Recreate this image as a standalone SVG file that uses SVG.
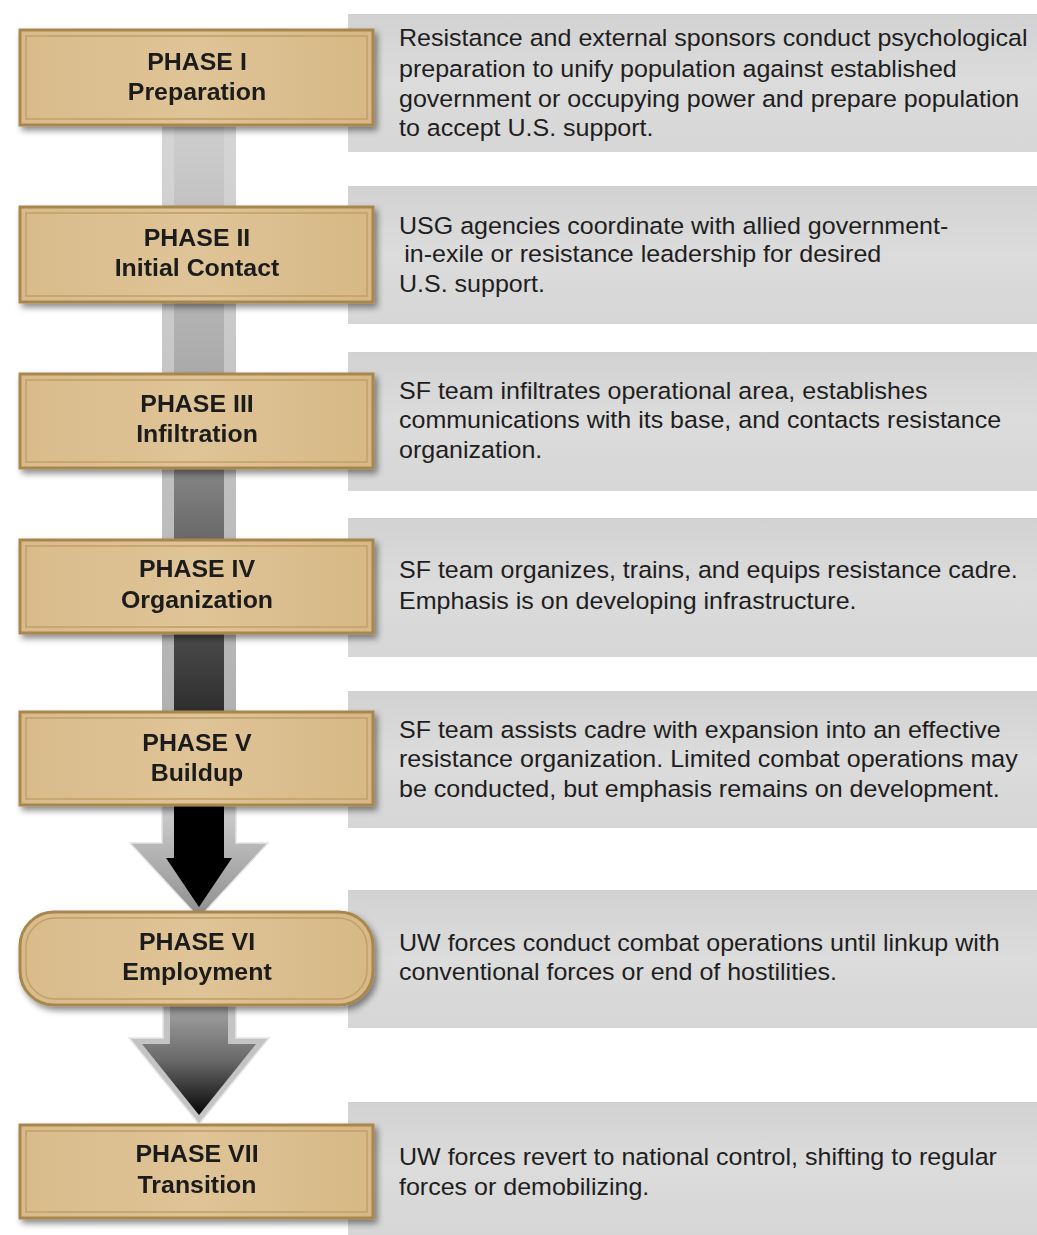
<svg xmlns="http://www.w3.org/2000/svg" width="1037" height="1235" viewBox="0 0 1037 1235">
<defs>
<style>
.panel{fill:url(#panelGrad);}
.box{fill:url(#boxGrad);stroke:#a8874f;stroke-width:3;}
.inner{fill:none;stroke:#c29f68;stroke-width:1.5;}
.lbl{font-family:"Liberation Sans",Arial,sans-serif;font-weight:bold;font-size:23.5px;fill:#1a1a1a;text-anchor:middle;}
.body{font-family:"Liberation Sans",Arial,sans-serif;font-size:23.5px;fill:#1e1e1e;}
</style>
<linearGradient id="panelGrad" x1="0" y1="0" x2="0" y2="1">
<stop offset="0" stop-color="#d2d2d2"/><stop offset="0.5" stop-color="#dcdcdc"/><stop offset="1" stop-color="#d6d6d6"/>
</linearGradient>
<linearGradient id="boxGrad" x1="0" y1="0" x2="1" y2="0">
<stop offset="0" stop-color="#d9bb8b"/><stop offset="0.5" stop-color="#dfc497"/><stop offset="1" stop-color="#d7b886"/>
</linearGradient>
<linearGradient id="shaftOuter" gradientUnits="userSpaceOnUse" x1="0" y1="120" x2="0" y2="860">
<stop offset="0" stop-color="#d6d6d6"/><stop offset="1" stop-color="#a8a8a8"/>
</linearGradient>
<linearGradient id="shaftInner" gradientUnits="userSpaceOnUse" x1="0" y1="120" x2="0" y2="860">
<stop offset="0" stop-color="#cfcfcf"/><stop offset="0.35" stop-color="#a9a9a9"/><stop offset="0.55" stop-color="#6e6e6e"/><stop offset="0.75" stop-color="#3c3c3c"/><stop offset="0.92" stop-color="#0a0a0a"/><stop offset="1" stop-color="#000"/>
</linearGradient>
<linearGradient id="headGray" x1="0" y1="0" x2="0" y2="1">
<stop offset="0" stop-color="#cfcfcf"/><stop offset="1" stop-color="#8e8e8e"/>
</linearGradient>
<linearGradient id="head2Inner" gradientUnits="userSpaceOnUse" x1="0" y1="1005" x2="0" y2="1115">
<stop offset="0" stop-color="#a4a4a4"/><stop offset="0.5" stop-color="#6a6a6a"/><stop offset="1" stop-color="#050505"/>
</linearGradient>
<filter id="shadow" x="-10%" y="-20%" width="125%" height="150%">
<feDropShadow dx="3" dy="4" stdDeviation="3" flood-color="#000" flood-opacity="0.45"/>
</filter>
</defs>
<rect width="1037" height="1235" fill="#ffffff"/>

<g id="panels">
<rect class="panel" x="348" y="14" width="689" height="138"/>
<rect class="panel" x="348" y="186" width="689" height="138"/>
<rect class="panel" x="348" y="352" width="689" height="139"/>
<rect class="panel" x="348" y="518" width="689" height="139"/>
<rect class="panel" x="348" y="691" width="689" height="137"/>
<rect class="panel" x="348" y="890" width="689" height="138"/>
<rect class="panel" x="348" y="1102" width="689" height="133"/>
</g>

<g id="connectors">
<rect x="162" y="120" width="74" height="690" fill="url(#shaftOuter)"/>
<rect x="174" y="120" width="50" height="690" fill="url(#shaftInner)"/>
<polygon points="162,805 236,805 236,843 268,843 199,918 130,843 162,843" fill="url(#headGray)" stroke="#e4e4e4" stroke-width="1.5"/>
<polygon points="174,805 224,805 224,858 232,858 199,907 166,858 174,858" fill="#000"/>
<polygon points="163,1000 236,1000 236,1038 269,1038 199,1124 129,1038 163,1038" fill="#c4c4c4" stroke="#e6e6e6" stroke-width="1.5"/>
<polygon points="170,1000 228,1000 228,1044 256,1044 199,1115 142,1044 170,1044" fill="url(#head2Inner)"/>
</g>

<g id="phase1" filter="url(#shadow)">
<rect class="box" x="20" y="30" width="353" height="95"/>
<rect class="inner" x="26" y="36" width="341" height="83"/>
<g transform="translate(197 0) scale(1.06 1)">
<text class="lbl" x="0" y="70">PHASE I</text>
<text class="lbl" x="0" y="100">Preparation</text>
</g>
</g>
<g id="phase2" filter="url(#shadow)">
<rect class="box" x="20" y="207" width="353" height="95"/>
<rect class="inner" x="26" y="213" width="341" height="83"/>
<g transform="translate(197 0) scale(1.06 1)">
<text class="lbl" x="0" y="246">PHASE II</text>
<text class="lbl" x="0" y="276">Initial Contact</text>
</g>
</g>
<g id="phase3" filter="url(#shadow)">
<rect class="box" x="20" y="374" width="353" height="94"/>
<rect class="inner" x="26" y="380" width="341" height="82"/>
<g transform="translate(197 0) scale(1.06 1)">
<text class="lbl" x="0" y="412">PHASE III</text>
<text class="lbl" x="0" y="442">Infiltration</text>
</g>
</g>
<g id="phase4" filter="url(#shadow)">
<rect class="box" x="20" y="540" width="353" height="93"/>
<rect class="inner" x="26" y="546" width="341" height="81"/>
<g transform="translate(197 0) scale(1.06 1)">
<text class="lbl" x="0" y="577">PHASE IV</text>
<text class="lbl" x="0" y="608">Organization</text>
</g>
</g>
<g id="phase5" filter="url(#shadow)">
<rect class="box" x="20" y="712" width="353" height="93"/>
<rect class="inner" x="26" y="718" width="341" height="81"/>
<g transform="translate(197 0) scale(1.06 1)">
<text class="lbl" x="0" y="751">PHASE V</text>
<text class="lbl" x="0" y="781">Buildup</text>
</g>
</g>
<g id="phase6" filter="url(#shadow)">
<rect class="box" x="20" y="912" width="353" height="93" rx="34" ry="34"/>
<rect class="inner" x="26" y="918" width="341" height="81" rx="29" ry="29"/>
<g transform="translate(197 0) scale(1.06 1)">
<text class="lbl" x="0" y="950">PHASE VI</text>
<text class="lbl" x="0" y="980">Employment</text>
</g>
</g>
<g id="phase7" filter="url(#shadow)">
<rect class="box" x="20" y="1125" width="353" height="93"/>
<rect class="inner" x="26" y="1131" width="341" height="81"/>
<g transform="translate(197 0) scale(1.06 1)">
<text class="lbl" x="0" y="1162">PHASE VII</text>
<text class="lbl" x="0" y="1193">Transition</text>
</g>
</g>

<g id="descriptions" transform="translate(399 0) scale(1.065 1)">
<g id="desc1">
<text class="body" x="0" y="46">Resistance and external sponsors conduct psychological</text>
<text class="body" x="0" y="77">preparation to unify population against established</text>
<text class="body" x="0" y="107">government or occupying power and prepare population</text>
<text class="body" x="0" y="136">to accept U.S. support.</text>
</g>
<g id="desc2">
<text class="body" x="0" y="234">USG agencies coordinate with allied government-</text>
<text class="body" x="5" y="262">in-exile or resistance leadership for desired</text>
<text class="body" x="0" y="292">U.S. support.</text>
</g>
<g id="desc3">
<text class="body" x="0" y="399">SF team infiltrates operational area, establishes</text>
<text class="body" x="0" y="428">communications with its base, and contacts resistance</text>
<text class="body" x="0" y="458">organization.</text>
</g>
<g id="desc4">
<text class="body" x="0" y="578">SF team organizes, trains, and equips resistance cadre.</text>
<text class="body" x="0" y="609">Emphasis is on developing infrastructure.</text>
</g>
<g id="desc5">
<text class="body" x="0" y="738">SF team assists cadre with expansion into an effective</text>
<text class="body" x="0" y="767">resistance organization. Limited combat operations may</text>
<text class="body" x="0" y="797">be conducted, but emphasis remains on development.</text>
</g>
<g id="desc6">
<text class="body" x="0" y="951">UW forces conduct combat operations until linkup with</text>
<text class="body" x="0" y="980">conventional forces or end of hostilities.</text>
</g>
<g id="desc7">
<text class="body" x="0" y="1165">UW forces revert to national control, shifting to regular</text>
<text class="body" x="0" y="1195">forces or demobilizing.</text>
</g>
</g>
</svg>
